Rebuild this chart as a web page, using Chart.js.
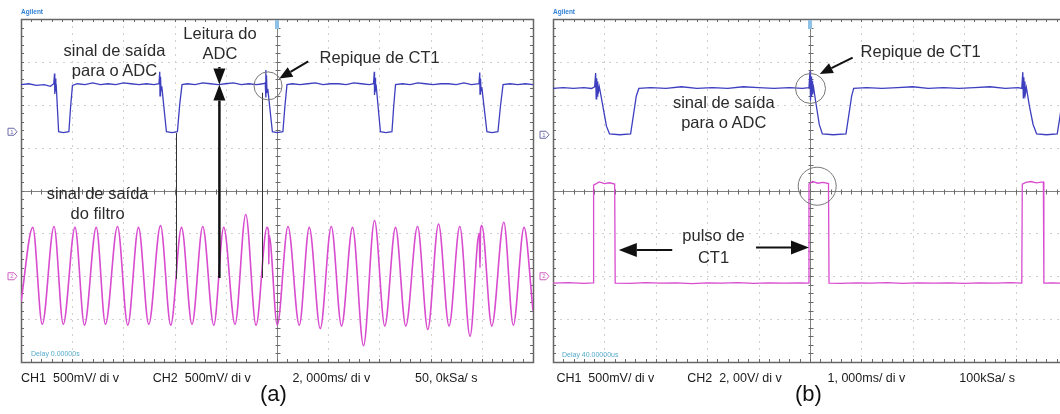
<!DOCTYPE html>
<html>
<head>
<meta charset="utf-8">
<script src="https://cdn.jsdelivr.net/npm/chart.js@4.4.1/dist/chart.umd.min.js"></script>
<style>
html, body { margin: 0; padding: 0; background: #fff; }
body { width: 1060px; height: 414px; position: relative; overflow: hidden; font-family: "Liberation Sans", Arial, sans-serif; }
canvas { position: absolute; top: 0; }
#scopeA { left: 0; width: 545px; height: 372px; }
#scopeB { left: 530px; width: 550px; height: 372px; }
.note { position: absolute; font-size: 16.5px; line-height: 20px; color: #2b2b2b; text-align: center; white-space: nowrap; }
.cap { position: absolute; font-size: 12.5px; line-height: 14px; color: #1a1a1a; white-space: pre; }
.tag { position: absolute; font-size: 22px; line-height: 24px; color: #111; }
.brand { position: absolute; font-size: 6.5px; font-weight: bold; color: #2f7fd5; }
.delay { position: absolute; font-size: 7px; color: #55aacc; white-space: nowrap; }
</style>
</head>
<body>
<canvas id="scopeA" width="545" height="372"></canvas>
<canvas id="scopeB" width="550" height="372"></canvas>

<div class="brand" style="left:21px;top:8px">Agilent</div>
<div class="brand" style="left:553px;top:8px">Agilent</div>
<div class="delay" style="left:31px;top:350px">Delay 0.00000s</div>
<div class="delay" style="left:562px;top:351px">Delay 40.00000us</div>

<!-- panel (a) notes -->
<div class="note" style="left:34.5px;top:39.6px;width:160px">sinal de saída<br>para o ADC</div>
<div class="note" style="left:140px;top:23.2px;width:160px">Leitura do<br>ADC</div>
<div class="note" style="left:319.5px;top:46.8px">Repique de CT1</div>
<div class="note" style="left:17.6px;top:182.9px;width:160px">sinal de saída<br>do filtro</div>

<!-- panel (b) notes -->
<div class="note" style="left:860.6px;top:41.1px">Repique de CT1</div>
<div class="note" style="left:643.8px;top:92.3px;width:160px">sinal de saída<br>para o ADC</div>
<div class="note" style="left:633.5px;top:224.2px;width:160px;line-height:22px">pulso de<br>CT1</div>

<!-- status lines -->
<div class="cap" style="left:21px;top:370.7px">CH1  500mV/ di v</div>
<div class="cap" style="left:152.8px;top:370.7px">CH2  500mV/ di v</div>
<div class="cap" style="left:292.4px;top:370.7px">2, 000ms/ di v</div>
<div class="cap" style="left:415px;top:370.7px">50, 0kSa/ s</div>
<div class="cap" style="left:556.4px;top:370.7px">CH1  500mV/ di v</div>
<div class="cap" style="left:687.2px;top:370.7px">CH2  2, 00V/ di v</div>
<div class="cap" style="left:827.5px;top:370.7px">1, 000ms/ di v</div>
<div class="cap" style="left:959.3px;top:370.7px">100kSa/ s</div>

<div class="tag" style="left:260px;top:382.3px">(a)</div>
<div class="tag" style="left:795px;top:382.3px">(b)</div>

<script>
// ---- data: [time in ms, volts] ----
// (a) CH1: sinal de saída para o ADC, 500mV/div, 2ms/div
const ch1A = [
  [-10.0,0.55],[-9.7,0.56],[-9.4,0.54],[-9.1,0.55],[-8.85,0.53],[-8.72,0.56],
  [-8.69,0.68],[-8.68,0.44],[-8.66,0.62],[-8.64,0.50],[-8.62,0.52],[-8.53,0.0],[-8.35,-0.01],[-8.13,0.0],[-8.06,0.30],[-7.99,0.54],
  [-7.8,0.56],[-7.5,0.55],[-7.2,0.57],[-6.9,0.55],[-6.6,0.56],[-6.3,0.55],[-6.0,0.57],[-5.7,0.56],[-5.4,0.55],[-5.1,0.56],[-4.8,0.55],[-4.61,0.56],
  [-4.58,0.70],[-4.57,0.42],[-4.55,0.64],[-4.53,0.48],[-4.50,0.53],[-4.32,0.0],[-4.1,-0.01],[-3.89,0.0],[-3.80,0.32],[-3.71,0.55],
  [-3.5,0.56],[-3.2,0.55],[-2.9,0.57],[-2.6,0.56],[-2.3,0.55],[-2.0,0.56],[-1.7,0.57],[-1.4,0.55],[-1.1,0.56],[-0.8,0.55],[-0.55,0.56],[-0.46,0.57],
  [-0.44,0.72],[-0.43,0.40],[-0.41,0.66],[-0.39,0.46],[-0.36,0.50],[-0.18,0.0],[0.0,-0.01],[0.23,0.0],[0.31,0.30],[0.39,0.55],
  [0.6,0.56],[0.9,0.55],[1.2,0.56],[1.5,0.57],[1.8,0.55],[2.1,0.56],[2.4,0.56],[2.7,0.55],[3.0,0.57],[3.3,0.56],[3.6,0.55],[3.77,0.56],
  [3.80,0.70],[3.81,0.43],[3.83,0.63],[3.85,0.49],[3.88,0.52],[4.04,0.0],[4.25,-0.01],[4.49,0.0],[4.56,0.30],[4.63,0.55],
  [4.9,0.56],[5.2,0.55],[5.5,0.57],[5.8,0.56],[6.1,0.55],[6.4,0.56],[6.7,0.56],[7.0,0.55],[7.3,0.57],[7.6,0.55],[7.89,0.56],
  [7.92,0.69],[7.93,0.44],[7.95,0.62],[7.97,0.48],[8.00,0.52],[8.20,0.0],[8.4,-0.01],[8.63,0.0],[8.73,0.30],[8.83,0.55],
  [9.1,0.56],[9.4,0.55],[9.7,0.56],[10.0,0.55]
];
// (a) CH2: sinal de saída do filtro (peaks / troughs), 500mV/div
const ch2A = [
  [-10.0,-0.30],[-9.54,0.57],[-9.17,-0.56],[-8.71,0.58],[-8.35,-0.56],[-7.89,0.57],[-7.52,-0.57],[-7.06,0.57],
  [-6.70,-0.56],[-6.23,0.58],[-5.83,-0.57],[-5.41,0.57],[-5.01,-0.56],[-4.55,0.59],[-4.15,-0.57],[-3.73,0.57],
  [-3.32,-0.56],[-2.90,0.58],[-2.47,-0.57],[-2.08,0.57],[-1.64,-0.56],[-1.22,0.72],[-0.82,-0.57],[-0.39,0.57],
  [-0.33,0.52],[-0.32,0.14],[-0.31,0.48],[0.01,-0.57],[0.43,0.58],[0.87,-0.57],[1.26,0.57],[1.69,-0.61],
  [2.12,0.58],[2.52,-0.58],[2.95,0.57],[3.38,-0.81],[3.81,0.65],[4.21,-0.58],[4.63,0.57],[5.03,-0.58],
  [5.49,0.58],[5.89,-0.62],[6.31,0.61],[6.72,-0.58],[7.14,0.58],[7.54,-0.70],[7.90,0.50],[7.93,0.10],
  [7.95,0.54],[8.00,0.59],[8.39,-0.58],[8.86,0.63],[9.23,-0.57],[9.65,0.57],[10.0,-0.40]
];
// (b) CH1: sinal de saída para o ADC, 500mV/div, 1ms/div
const ch1B = [
  [-5.0,0.54],[-4.8,0.55],[-4.6,0.54],[-4.4,0.55],[-4.25,0.54],[-4.19,0.56],
  [-4.17,0.72],[-4.16,0.42],[-4.15,0.66],[-4.14,0.45],[-4.13,0.62],[-4.12,0.48],[-4.10,0.56],[-4.08,0.50],
  [-4.02,0.30],[-3.96,0.10],[-3.90,0.01],[-3.7,0.0],[-3.49,0.01],[-3.43,0.25],[-3.38,0.45],[-3.33,0.54],
  [-3.1,0.55],[-2.8,0.54],[-2.5,0.56],[-2.2,0.54],[-1.9,0.55],[-1.6,0.54],[-1.3,0.56],[-1.0,0.55],[-0.7,0.54],[-0.4,0.55],[-0.15,0.54],[-0.02,0.55],
  [0.0,0.74],[0.01,0.40],[0.02,0.68],[0.03,0.44],[0.04,0.63],[0.05,0.47],[0.07,0.55],
  [0.12,0.35],[0.18,0.12],[0.24,0.01],[0.45,0.0],[0.70,0.01],[0.76,0.25],[0.81,0.45],[0.85,0.54],
  [1.1,0.55],[1.4,0.54],[1.7,0.55],[2.0,0.56],[2.3,0.54],[2.6,0.55],[2.9,0.54],[3.2,0.55],[3.5,0.56],[3.8,0.54],[4.05,0.55],[4.12,0.54],
  [4.14,0.73],[4.15,0.43],[4.16,0.67],[4.17,0.45],[4.18,0.62],[4.19,0.48],[4.21,0.55],
  [4.27,0.33],[4.34,0.12],[4.41,0.01],[4.6,0.0],[4.81,0.01],[4.86,0.20],[4.92,0.45],[4.97,0.54]
];
// (b) CH2: pulso de CT1, 2V/div
const ch2B = [
  [-5.0,-0.32],[-4.7,-0.30],[-4.4,-0.33],[-4.22,-0.31],[-4.21,4.25],[-4.1,4.40],[-4.0,4.32],[-3.9,4.36],[-3.80,4.30],[-3.79,-0.32],
  [-3.5,-0.33],[-3.2,-0.30],[-2.9,-0.32],[-2.6,-0.31],[-2.3,-0.34],[-2.0,-0.31],[-1.7,-0.32],[-1.4,-0.30],[-1.1,-0.33],[-0.8,-0.31],[-0.5,-0.32],[-0.2,-0.31],[-0.03,-0.32],
  [-0.02,4.30],[0.05,4.42],[0.15,4.34],[0.25,4.38],[0.36,4.32],[0.37,-0.32],
  [0.6,-0.33],[0.9,-0.31],[1.2,-0.32],[1.5,-0.30],[1.8,-0.33],[2.1,-0.31],[2.4,-0.32],[2.7,-0.31],[3.0,-0.33],[3.3,-0.31],[3.6,-0.32],[3.9,-0.30],[4.12,-0.32],
  [4.13,4.30],[4.2,4.38],[4.3,4.42],[4.4,4.36],[4.54,4.40],[4.55,-0.32],[4.7,-0.31],[4.85,-0.32],[5.0,-0.31]
];

// channel settings: volts per division and ground offset (divisions from centre)
const voltsPerDivA = [0.5, 0.5];
const offsetsA = [1.37, -2];
const voltsPerDivB = [0.5, 2];
const offsetsB = [1.3, -2];

const BLUE = '#3d3fbf';
const MAGENTA = '#d84ccf';

function toDiv(points, vdiv, offset) {
  return points.map(p => ({ x: p[0], y: p[1] / vdiv + offset }));
}

function arrow(ctx, x1, y1, x2, y2, w, len, half) {
  const ang = Math.atan2(y2 - y1, x2 - x1);
  const bx = x2 - Math.cos(ang) * len, by = y2 - Math.sin(ang) * len;
  ctx.lineWidth = w;
  ctx.beginPath(); ctx.moveTo(x1, y1); ctx.lineTo(bx, by); ctx.stroke();
  ctx.beginPath();
  ctx.moveTo(x2, y2);
  ctx.lineTo(bx + Math.sin(ang) * half, by - Math.cos(ang) * half);
  ctx.lineTo(bx - Math.sin(ang) * half, by + Math.cos(ang) * half);
  ctx.closePath(); ctx.fill();
}

// scope screen: graticule under the traces, notes on top
function scopeOverlay(cfg) {
  return {
    id: 'scopeOverlay',
    beforeDatasetsDraw(chart) {
      const { ctx, chartArea: a, scales: { x, y } } = chart;
      const nx = Math.round((x.max - x.min) / cfg.xStep);
      const cx = Math.round(x.getPixelForValue(0)) + 0.5;
      const cy = Math.round(y.getPixelForValue(0)) + 0.5;
      ctx.save();
      // dotted division lines
      ctx.strokeStyle = '#cfcfcf'; ctx.lineWidth = 1; ctx.setLineDash([2, 5]);
      for (let i = 1; i < nx; i++) {
        const px = Math.round(x.getPixelForValue(x.min + i * cfg.xStep)) + 0.5;
        ctx.beginPath(); ctx.moveTo(px, a.top); ctx.lineTo(px, a.bottom); ctx.stroke();
      }
      for (let j = -3; j <= 3; j++) {
        const py = Math.round(y.getPixelForValue(j)) + 0.5;
        ctx.beginPath(); ctx.moveTo(a.left, py); ctx.lineTo(a.right, py); ctx.stroke();
      }
      ctx.setLineDash([]);
      // centre cross
      ctx.strokeStyle = '#808080';
      ctx.beginPath(); ctx.moveTo(cx, a.top); ctx.lineTo(cx, a.bottom); ctx.stroke();
      ctx.beginPath(); ctx.moveTo(a.left, cy); ctx.lineTo(a.right, cy); ctx.stroke();
      // minor ticks every 1/5 division
      ctx.strokeStyle = '#6a6a6a';
      ctx.beginPath();
      for (let k = 0; k <= nx * 5; k++) {
        const px = Math.round(x.getPixelForValue(x.min + k * cfg.xStep / 5)) + 0.5;
        ctx.moveTo(px, a.top); ctx.lineTo(px, a.top + 3);
        ctx.moveTo(px, a.bottom - 3); ctx.lineTo(px, a.bottom);
        ctx.moveTo(px, cy - 2); ctx.lineTo(px, cy + 3);
      }
      for (let k = -20; k <= 20; k++) {
        const py = Math.round(y.getPixelForValue(k / 5)) + 0.5;
        ctx.moveTo(a.left, py); ctx.lineTo(a.left + 3, py);
        ctx.moveTo(a.right - 3, py); ctx.lineTo(a.right, py);
        ctx.moveTo(cx - 2, py); ctx.lineTo(cx + 3, py);
      }
      ctx.stroke();
      // frame
      ctx.strokeStyle = '#666'; ctx.lineWidth = 1.5;
      ctx.strokeRect(Math.round(a.left) + 0.5, Math.round(a.top) + 0.5, Math.round(a.right - a.left), Math.round(a.bottom - a.top));
      ctx.restore();
    },
    afterDatasetsDraw(chart) {
      const { ctx, scales: { x, y } } = chart;
      ctx.save();
      ctx.strokeStyle = '#333'; ctx.lineWidth = 1;
      cfg.cursors.forEach(c => {
        const px = Math.round(x.getPixelForValue(c[0])) + 0.5;
        ctx.beginPath(); ctx.moveTo(px, y.getPixelForValue(c[1])); ctx.lineTo(px, y.getPixelForValue(c[2])); ctx.stroke();
      });
      ctx.strokeStyle = '#777';
      cfg.rings.forEach(r => {
        ctx.beginPath(); ctx.arc(x.getPixelForValue(r[0]), y.getPixelForValue(r[1]), r[2], 0, Math.PI * 2); ctx.stroke();
      });
      ctx.strokeStyle = '#111'; ctx.fillStyle = '#111';
      cfg.arrows.forEach(ar => {
        arrow(ctx, x.getPixelForValue(ar.from[0]), y.getPixelForValue(ar.from[1]),
          x.getPixelForValue(ar.to[0]), y.getPixelForValue(ar.to[1]), ar.w, ar.len, ar.half);
      });
      ctx.restore();
    },
    afterDraw(chart) {
      const { ctx, chartArea: a, scales: { x, y } } = chart;
      ctx.save();
      // trigger flag
      ctx.fillStyle = '#8fc0e6';
      ctx.fillRect(x.getPixelForValue(0) - 2, a.top + 1, 4, 9);
      // channel ground markers
      ctx.font = '6px "Liberation Sans", Arial';
      ctx.textAlign = 'center'; ctx.textBaseline = 'middle';
      cfg.offsets.forEach((off, i) => {
        const py = y.getPixelForValue(off);
        const col = i === 0 ? '#6a6aa8' : '#d060c0';
        const lx = a.left - 13;
        ctx.strokeStyle = col; ctx.fillStyle = col; ctx.lineWidth = 1;
        ctx.beginPath();
        ctx.moveTo(lx, py - 3.5); ctx.lineTo(lx + 6, py - 3.5); ctx.lineTo(lx + 9, py);
        ctx.lineTo(lx + 6, py + 3.5); ctx.lineTo(lx, py + 3.5); ctx.closePath(); ctx.stroke();
        ctx.fillText(String(i + 1), lx + 4, py + 0.5);
      });
      ctx.restore();
    }
  };
}

function makeScope(id, xMin, xMax, pad, ch1, ch2, vdiv, offsets, overlay) {
  overlay.offsets = offsets;
  return new Chart(document.getElementById(id), {
    type: 'line',
    data: {
      datasets: [
        { data: toDiv(ch1, vdiv[0], offsets[0]), borderColor: BLUE, borderWidth: 1.3, pointRadius: 0, tension: 0 },
        { data: toDiv(ch2, vdiv[1], offsets[1]), borderColor: MAGENTA, borderWidth: overlay.smooth ? 1.6 : 1.3, pointRadius: 0,
          tension: overlay.smooth ? 0.4 : 0, cubicInterpolationMode: overlay.smooth ? 'monotone' : 'default' }
      ]
    },
    options: {
      responsive: false,
      animation: false,
      devicePixelRatio: 1,
      events: [],
      layout: { padding: pad },
      scales: {
        x: { type: 'linear', min: xMin, max: xMax, display: false },
        y: { min: -4, max: 4, display: false }
      },
      plugins: { legend: { display: false }, tooltip: { enabled: false } }
    },
    plugins: [scopeOverlay(overlay)]
  });
}

makeScope('scopeA', -10, 10, { left: 21, top: 19, right: 12, bottom: 10 }, ch1A, ch2A, voltsPerDivA, offsetsA, {
  xStep: 2,
  smooth: true,
  cursors: [[-3.95, 1.34, -2.06], [-0.59, 2.28, -2.04]],
  rings: [[-0.35, 2.44, 14]],
  arrows: [
    { from: [-2.25, -2.04], to: [-2.25, 2.47], w: 2.5, len: 16, half: 6 },
    { from: [-2.25, 2.88], to: [-2.25, 2.47], w: 2.5, len: 16, half: 6 },
    { from: [1.22, 3.01], to: [0.09, 2.61], w: 2, len: 13, half: 5.5 }
  ]
});

// the CT1 pulse is square: no smoothing on that trace
makeScope('scopeB', -5, 5, { left: 23, top: 19, right: 13, bottom: 10 }, ch1B, ch2B, voltsPerDivB, offsetsB, {
  xStep: 1,
  smooth: false,
  cursors: [],
  rings: [[0.01, 2.38, 15], [0.14, 0.10, 19]],
  arrows: [
    { from: [0.83, 3.10], to: [0.19, 2.72], w: 2, len: 13, half: 5.5 },
    { from: [-2.68, -1.39], to: [-3.72, -1.39], w: 2, len: 18, half: 7 },
    { from: [-1.05, -1.33], to: [-0.02, -1.33], w: 2, len: 18, half: 7 }
  ]
});
</script>
</body>
</html>
